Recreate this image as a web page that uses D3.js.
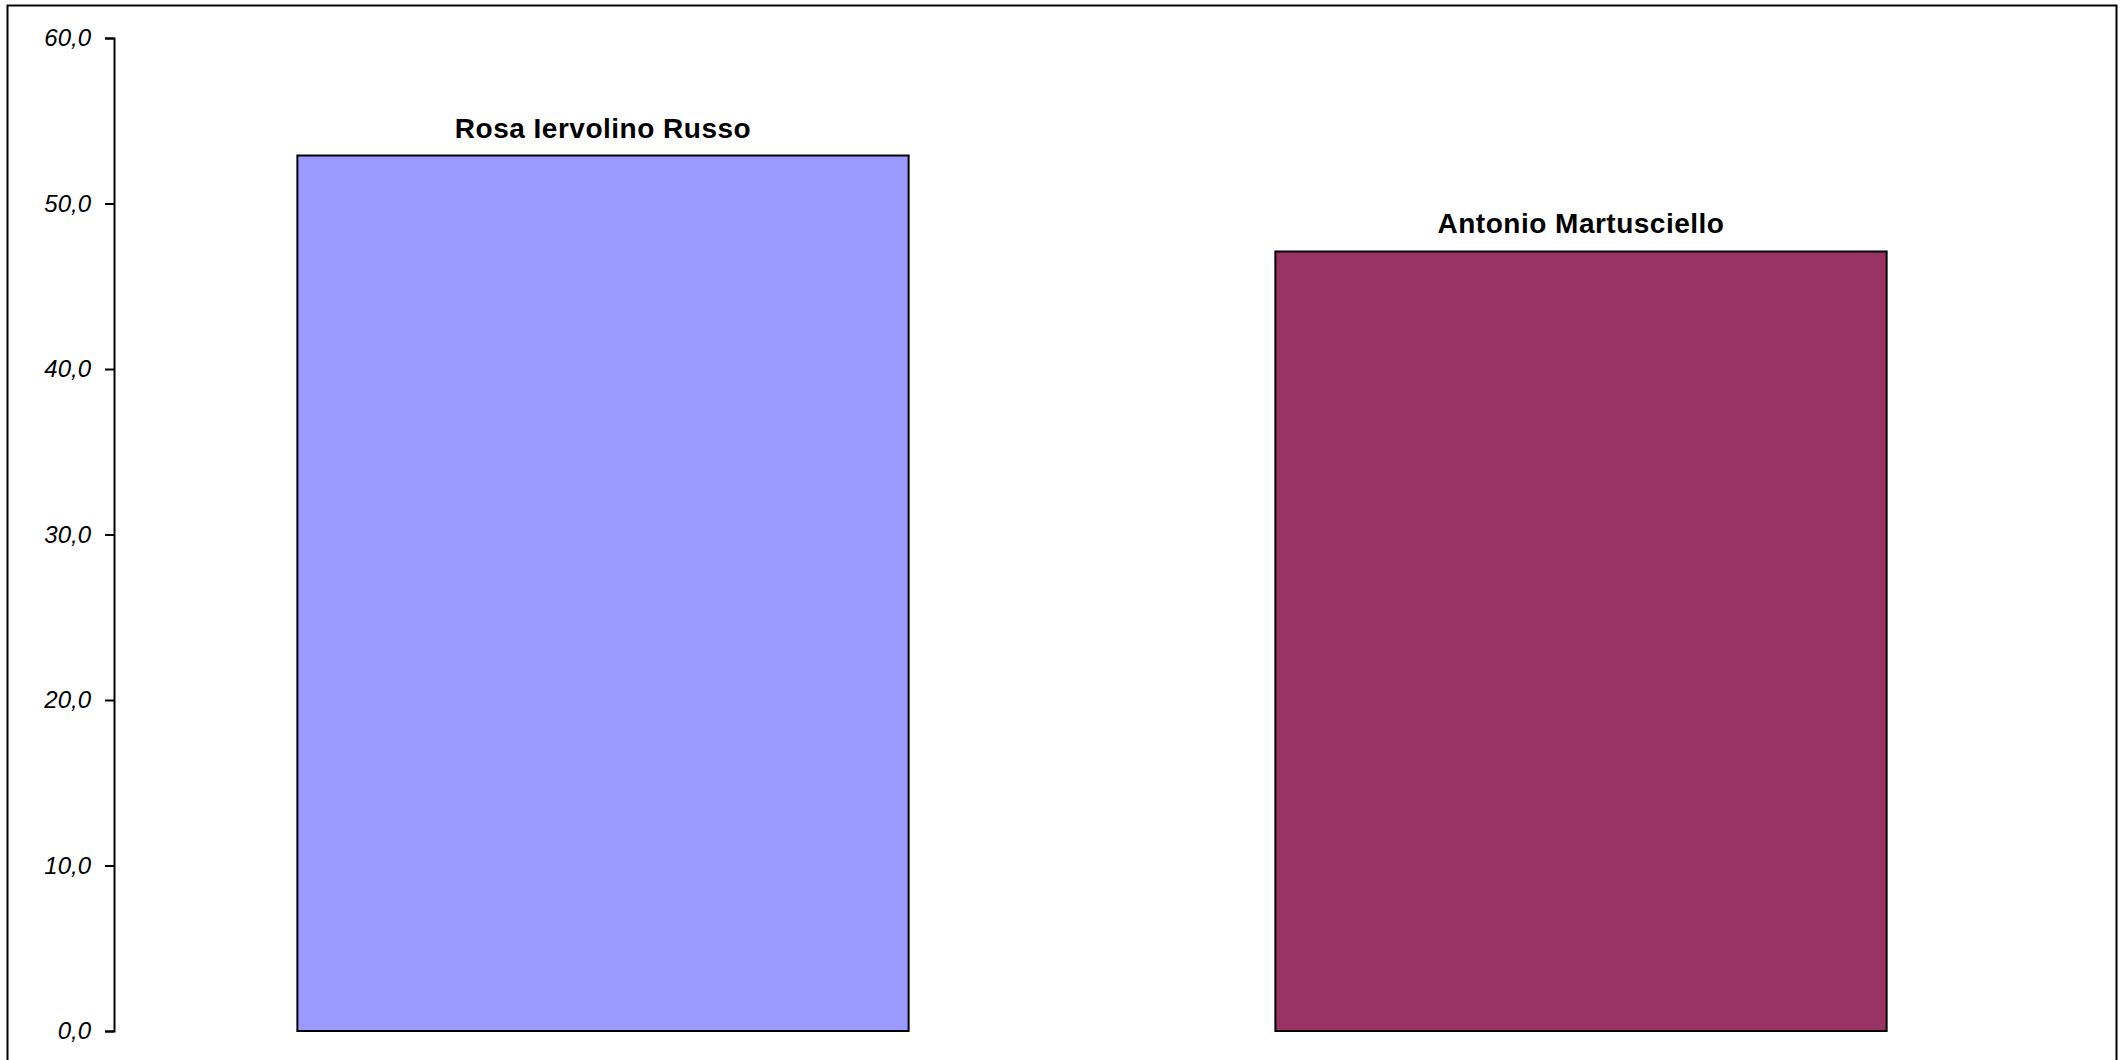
<!DOCTYPE html>
<html>
<head>
<meta charset="utf-8">
<script src="https://cdn.jsdelivr.net/npm/d3@7"></script>
<style>
  body { margin: 0; background: #fff; }
</style>
</head>
<body>
<svg></svg>
<script>
// chart data
let candidates = ['Rosa Iervolino Russo', 'Antonio Martusciello']
let percentages = [52.9, 47.1]
let barColors = ['#9999FF', '#993366']
let yTicks = [0, 10, 20, 30, 40, 50, 60]

// canvas
let width = 2127
let height = 1060

let svg = d3.select('svg')
svg.attr('width', width).attr('height', height)

// outer frame
svg.append('rect')
    .attr('x', 7.5)
    .attr('y', 5.5)
    .attr('width', 2109)
    .attr('height', 1070)
    .attr('fill', 'none')
    .attr('stroke', '#000')
    .attr('stroke-width', 2)

// scales
let xScale = d3.scaleBand()
    .domain(candidates)
    .range([114, 2070])
    .paddingInner(0.375)
    .paddingOuter(0.1875)

let yScale = d3.scaleLinear()
    .domain([0, 60])
    .range([1031, 38])

// italian number format: 60,0
let it = d3.formatLocale({decimal: ',', thousands: '.', grouping: [3], currency: ['', '€']})

// y axis
let yAxis = d3.axisLeft(yScale)
    .tickValues(yTicks)
    .tickFormat(it.format('.1f'))
    .tickSize(9)
    .tickPadding(14)

let gy = svg.append('g')
    .attr('transform', 'translate(114,0)')
    .call(yAxis)
gy.select('.domain').attr('stroke', '#000').attr('stroke-width', 2)
gy.selectAll('.tick line').attr('stroke', '#000').attr('stroke-width', 2)
gy.selectAll('.tick text')
    .attr('fill', '#000')
    .style('font-family', '"Liberation Sans", Arial, sans-serif')
    .style('font-style', 'italic')
    .style('font-size', '24px')

// bars
let rows = candidates.map((c, i) => ({name: c, value: percentages[i], color: barColors[i]}))

svg.selectAll('rect.bar')
    .data(rows)
    .enter()
    .append('rect')
    .attr('class', 'bar')
    .attr('x', d => xScale(d.name))
    .attr('y', d => yScale(d.value))
    .attr('width', xScale.bandwidth())
    .attr('height', d => yScale(0) - yScale(d.value))
    .attr('fill', d => d.color)
    .attr('stroke', '#000')
    .attr('stroke-width', 2)

// name labels above bars
svg.selectAll('text.name')
    .data(rows)
    .enter()
    .append('text')
    .attr('class', 'name')
    .attr('x', d => xScale(d.name) + xScale.bandwidth() / 2)
    .attr('y', d => yScale(d.value) - 18)
    .attr('text-anchor', 'middle')
    .style('font-family', '"Liberation Sans", Arial, sans-serif')
    .style('font-weight', 'bold')
    .style('font-size', '28px')
    .style('letter-spacing', '0.5px')
    .text(d => d.name)
</script>
</body>
</html>
